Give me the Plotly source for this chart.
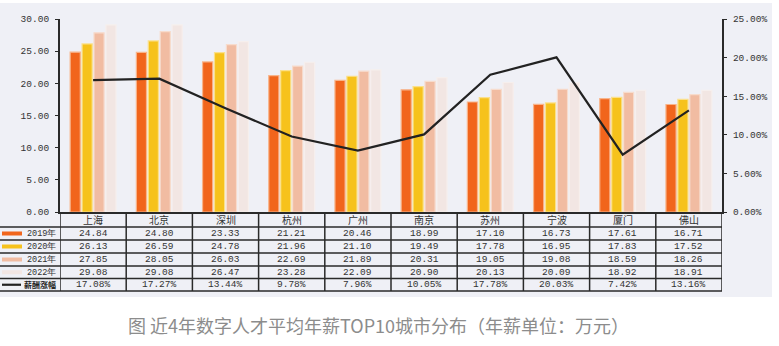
import plotly.graph_objects as go

cities = ["上海", "北京", "深圳", "杭州", "广州", "南京", "苏州", "宁波", "厦门", "佛山"]
years = ["2019年", "2020年", "2021年", "2022年"]
sal_2019 = [24.84, 24.80, 23.33, 21.21, 20.46, 18.99, 17.10, 16.73, 17.61, 16.71]
sal_2020 = [26.13, 26.59, 24.78, 21.96, 21.10, 19.49, 17.78, 16.95, 17.83, 17.52]
sal_2021 = [27.85, 28.05, 26.03, 22.69, 21.89, 20.31, 19.05, 19.08, 18.59, 18.26]
sal_2022 = [29.08, 29.08, 26.47, 23.28, 22.09, 20.90, 20.13, 20.09, 18.92, 18.91]
growth = [0.1708, 0.1727, 0.1344, 0.0978, 0.0796, 0.1005, 0.1778, 0.2003, 0.0742, 0.1316]
growth_label = "薪酬涨幅"
caption = "图 近4年数字人才平均年薪TOP10城市分布（年薪单位：万元）"

series = [sal_2019, sal_2020, sal_2021, sal_2022]
colors = ["#f1651c", "#f6c21c", "#f1bca2", "#f2e6e3"]
edge = ["#f8b48a", "#fbe08a", "#f7dccd", "#f6efed"]

W, H = 779, 346
ML, MR, MT, MB = 60, 57, 19, 134
PW = W - ML - MR
PH = H - MT - MB

def px(xp):
    return (xp - ML) / PW

def py(yp):
    return (H - MB - yp) / PH

fig = go.Figure()
for name, vals, c, e in zip(years, series, colors, edge):
    fig.add_trace(go.Bar(x=cities, y=vals, name=name, marker=dict(color=c, line=dict(color=e, width=1.2)),
                         yaxis="y", showlegend=False))
fig.add_trace(go.Scatter(x=cities, y=growth, name=growth_label, mode="lines",
                         line=dict(color="#222222", width=2.2), yaxis="y2", showlegend=False))

mono = "Liberation Mono, DejaVu Sans Mono, monospace"
cjk = "Noto Sans CJK SC"

shapes = []
annotations = []

# background panel
shapes.append(dict(type="rect", xref="paper", yref="paper", x0=px(0), x1=px(772), y0=py(297), y1=py(3),
                   fillcolor="#eff0f6", line=dict(width=0), layer="below"))

# table rows
rows = [212, 227, 240, 253, 266, 278.5, 291]
lc = "#2a2a2a"
for i, yb in enumerate(rows):
    if i == 0:
        continue
    shapes.append(dict(type="line", xref="paper", yref="paper", x0=px(0), x1=1, y0=py(yb), y1=py(yb),
                       line=dict(color=lc, width=1.5)))
for k in range(len(cities) + 1):
    shapes.append(dict(type="line", xref="x", yref="paper", x0=k - 0.5, x1=k - 0.5, y0=py(rows[0]), y1=py(rows[-1]),
                       line=dict(color=lc, width=1.5)))

def yc(i):
    return py((rows[i] + rows[i + 1]) / 2)

def ann(**kw):
    base = dict(showarrow=False, yanchor="middle", xanchor="center")
    base.update(kw)
    annotations.append(base)

for j, c in enumerate(cities):
    ann(x=c, y=yc(0), xref="x", yref="paper", text=c, font=dict(family=cjk, size=10, color="#333"))
    for r, vals in enumerate(series):
        ann(x=c, y=yc(r + 1), xref="x", yref="paper", text=f"{vals[j]:.2f}",
            font=dict(family=mono, size=9.5, color="#333"))
    ann(x=c, y=yc(5), xref="x", yref="paper", text=f"{growth[j]*100:.2f}%",
        font=dict(family=mono, size=9.5, color="#333"))

# row labels with swatches
for r, (name, c) in enumerate(zip(years, colors)):
    ann(x=px(58), y=yc(r + 1), xref="paper", yref="paper", text=name, xanchor="right",
        font=dict(family=mono, size=8.5, color="#333"))
    yy = (rows[r + 1] + rows[r + 2]) / 2
    shapes.append(dict(type="rect", xref="paper", yref="paper", x0=px(2), x1=px(22), y0=py(yy + 2), y1=py(yy - 2),
                       fillcolor=c, line=dict(width=0)))
ann(x=px(58), y=yc(5), xref="paper", yref="paper", text="<b>" + growth_label + "</b>", xanchor="right",
    font=dict(family=cjk, size=8, color="#222"))
yy = (rows[5] + rows[6]) / 2
shapes.append(dict(type="line", xref="paper", yref="paper", x0=px(2), x1=px(21), y0=py(yy), y1=py(yy),
                   line=dict(color="#222", width=2.2)))

ann(x=px(378), y=py(325), xref="paper", yref="paper", text=caption,
    font=dict(family=cjk, size=18, color="#8c8c8c"))

fig.update_layout(
    width=W, height=H,
    margin=dict(l=ML, r=MR, t=MT, b=MB, pad=0),
    paper_bgcolor="white", plot_bgcolor="rgba(0,0,0,0)",
    barmode="group", bargap=0.28, bargroupgap=0.15,
    xaxis=dict(range=[-0.5, 9.5], showticklabels=False, ticks="", showgrid=False, zeroline=False,
               showline=True, linecolor=lc, linewidth=1.5),
    yaxis=dict(range=[0, 30], dtick=5, tickformat=".2f", showgrid=False, zeroline=False,
               showline=True, linecolor=lc, linewidth=2, ticks="outside", ticklen=3, tickcolor=lc,
               tickfont=dict(family=mono, size=9.5, color="#333"), ticklabelstandoff=4),
    yaxis2=dict(range=[0, 0.25], dtick=0.05, tickformat=".2%", overlaying="y", side="right", showgrid=False,
                zeroline=False, showline=True, linecolor=lc, linewidth=2, ticks="outside", ticklen=3,
                tickcolor=lc, tickfont=dict(family=mono, size=9.5, color="#333"), ticklabelstandoff=4),
    shapes=shapes, annotations=annotations,
)

fig.write_html("out.html")
